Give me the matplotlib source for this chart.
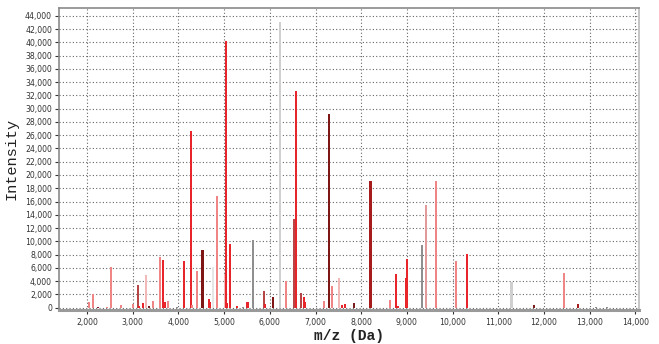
import matplotlib
matplotlib.use("Agg")
import matplotlib.pyplot as plt
from matplotlib.ticker import FuncFormatter

# ---- data ----
mz = [2044, 2132, 2240, 2440, 2535, 2747, 3000, 3121, 3140, 3223, 3282, 3297,
      3360, 3450, 3590, 3663, 3700, 3780, 3960, 4125, 4271, 4290, 4403, 4513,
      4527, 4660, 4680, 4762, 4835, 5010, 5022, 5037, 5055, 5139, 5278, 5420,
      5512, 5629, 5870, 5885, 6075, 6215, 6353, 6521, 6565, 6580, 6675, 6740,
      6765, 7186, 7289, 7369, 7515, 7590, 7650, 7835, 8203, 8634, 8759, 8810,
      8975, 9010, 9329, 9420, 9629, 10066, 10320, 11289, 11784, 12447, 12738,
      13146, 13387]
intensity = [900, 2100, 100, 150, 6200, 450, 600, 3450, 300, 700, 2000, 5000,
             300, 1050, 7600, 7250, 800, 1050, 100, 7100, 26700, 400, 5600, 3100,
             8750, 1350, 800, 6200, 16800, 700, 5100, 40150, 700, 9650, 200, 150,
             800, 10250, 2550, 600, 1550, 43000, 4000, 13350, 32700, 1500, 2200, 1550,
             800, 950, 29250, 3300, 4400, 450, 600, 700, 19050, 1200, 5100, 200,
             4400, 7300, 9450, 15500, 19150, 7100, 8150, 3900, 350, 5200, 500,
             100, 100]
shade = ["pink", "pink", "dark", "pink", "pink", "pink", "pink", "brown", "red", "red", "red", "lightpink",
         "dark", "pink", "pink", "red", "red", "pink", "gray", "red", "red", "pink", "pink", "red",
         "maroon", "red", "red", "vlight", "pink", "red", "lightpink", "red", "red", "red", "red", "gray",
         "red", "gray", "brown", "red", "maroon", "lgray", "pink", "brown", "red", "red", "brown", "red",
         "red", "pink", "maroon", "pink", "lightpink", "red", "red", "dark", "darkred", "pink", "red", "red",
         "red", "red", "gray", "rose", "pink", "pink", "red", "lgray", "dark", "pink", "darkred",
         "gray", "gray"]

yticks = list(range(0, 44001, 2000))
xticks = list(range(2000, 14001, 1000))

palette = {
    "red": "#e8252b", "pink": "#f08585", "lightpink": "#f2b9b9", "dark": "#7a1d1d",
    "maroon": "#7e1616", "brown": "#b84545", "gray": "#8f8f8f", "lgray": "#cfcfcf",
    "vlight": "#e6e6e6", "darkred": "#a61c1c", "rose": "#e29a9a",
}

fig = plt.figure(figsize=(6.59, 3.44), dpi=100)
ax = fig.add_axes([59 / 659, 1 - 310 / 344, 580 / 659, 302 / 344])

ax.bar(mz, intensity, width=45, color=[palette[s] for s in shade], linewidth=0, zorder=3)

ax.set_xlim(1387, 14079)
ax.set_ylim(-350, 45170)
ax.set_xticks(xticks)
ax.set_yticks(yticks)
fmt = FuncFormatter(lambda v, p: f"{int(v):,}")
ax.xaxis.set_major_formatter(fmt)
ax.yaxis.set_major_formatter(fmt)

ax.grid(True, which="major", color="#666666", linestyle=(0, (1, 2)), linewidth=0.8, zorder=1)
ax.tick_params(axis="both", labelsize=5.6, colors="#333333", length=3, width=0.8)
ax.tick_params(axis="x", pad=3)
ax.tick_params(axis="y", pad=2)

for side in ["left", "top"]:
    ax.spines[side].set_color("#8a8a8a")
    ax.spines[side].set_linewidth(1.2)
ax.spines["right"].set_color("#bbbbbb")
ax.spines["right"].set_linewidth(1.2)
ax.spines["bottom"].set_color("#9a9a9a")
ax.spines["bottom"].set_linewidth(2.2)

ax.set_ylabel("Intensity", family="Liberation Mono", fontsize=11, color="#222222", labelpad=5)
ax.set_xlabel("m/z (Da)", family="Liberation Mono", fontsize=10.5, fontweight="bold",
              color="#222222", labelpad=1)

fig.savefig("out.png", dpi=100, facecolor="white")
